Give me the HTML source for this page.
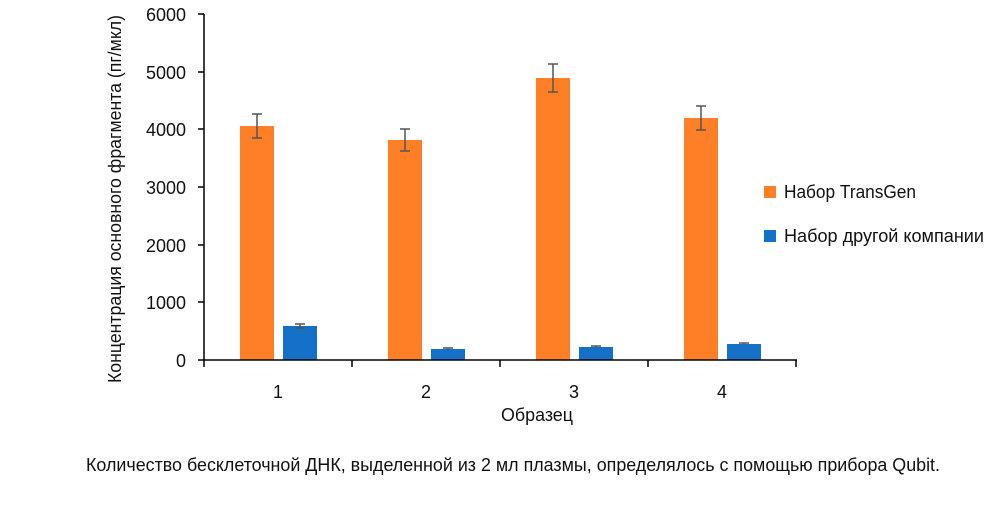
<!DOCTYPE html>
<html><head><meta charset="utf-8"><style>body{margin:0;background:#fff}svg{display:block}text{font-family:"Liberation Sans",sans-serif;fill:#111}</style></head><body>
<svg width="1000" height="517" viewBox="0 0 1000 517">
<g fill="#FF7F27">
<rect x="240" y="126" width="34" height="234"/>
<rect x="388" y="140" width="34" height="220"/>
<rect x="536" y="78" width="34" height="282"/>
<rect x="684" y="118" width="34" height="242"/>
</g>
<g fill="#1570C8">
<rect x="283" y="326" width="34" height="34"/>
<rect x="431" y="349" width="34" height="11"/>
<rect x="579" y="347" width="34" height="13"/>
<rect x="727" y="344" width="34" height="16"/>
</g>
<g stroke="#555" stroke-width="1.5" fill="none">
<path d="M257 114V138M252 114h10M252 138h10"/>
<path d="M405 129V151M400 129h10M400 151h10"/>
<path d="M553 64V92M548 64h10M548 92h10"/>
<path d="M701 106V130M696 106h10M696 130h10"/>
<path d="M300 324V328M295 324h10M295 328h10"/>
<path d="M448 348V350M443 348h10"/>
<path d="M596 346V348M591 346h10"/>
<path d="M744 343V345M739 343h10"/>
</g>
<g stroke="#000" stroke-width="1.5">
<line x1="204" y1="14" x2="204" y2="367"/>
<line x1="204" y1="360" x2="797" y2="360"/>
<line x1="352" y1="360" x2="352" y2="367"/>
<line x1="500" y1="360" x2="500" y2="367"/>
<line x1="648" y1="360" x2="648" y2="367"/>
<line x1="796" y1="360" x2="796" y2="367"/>
<line x1="198" y1="14" x2="204" y2="14"/>
<line x1="198" y1="72" x2="204" y2="72"/>
<line x1="198" y1="129" x2="204" y2="129"/>
<line x1="198" y1="187" x2="204" y2="187"/>
<line x1="198" y1="245" x2="204" y2="245"/>
<line x1="198" y1="302" x2="204" y2="302"/>
<line x1="198" y1="360" x2="204" y2="360"/>
</g>
<g font-size="18" text-anchor="end">
<text x="186" y="21">6000</text><text x="186" y="79">5000</text><text x="186" y="136">4000</text><text x="186" y="194">3000</text><text x="186" y="252">2000</text><text x="186" y="309">1000</text><text x="186" y="367">0</text>
</g>
<g font-size="18" text-anchor="middle">
<text x="278" y="398">1</text><text x="426" y="398">2</text><text x="574" y="398">3</text><text x="722" y="398">4</text>
<text x="537" y="421" textLength="72" lengthAdjust="spacingAndGlyphs">Образец</text>
</g>
<text transform="translate(121,383) rotate(-90)" font-size="18" textLength="368" lengthAdjust="spacingAndGlyphs">Концентрация основного фрагмента (пг/мкл)</text>
<rect x="764" y="186" width="12" height="12" fill="#FF7F27"/>
<text x="784" y="198" font-size="18" textLength="132" lengthAdjust="spacingAndGlyphs">Набор TransGen</text>
<rect x="764" y="230" width="12" height="12" fill="#1570C8"/>
<text x="784" y="242" font-size="18" textLength="200" lengthAdjust="spacingAndGlyphs">Набор другой компании</text>
<text x="86" y="471" font-size="18" textLength="854" lengthAdjust="spacingAndGlyphs">Количество бесклеточной ДНК, выделенной из 2 мл плазмы, определялось с помощью прибора Qubit.</text>
</svg>
</body></html>
